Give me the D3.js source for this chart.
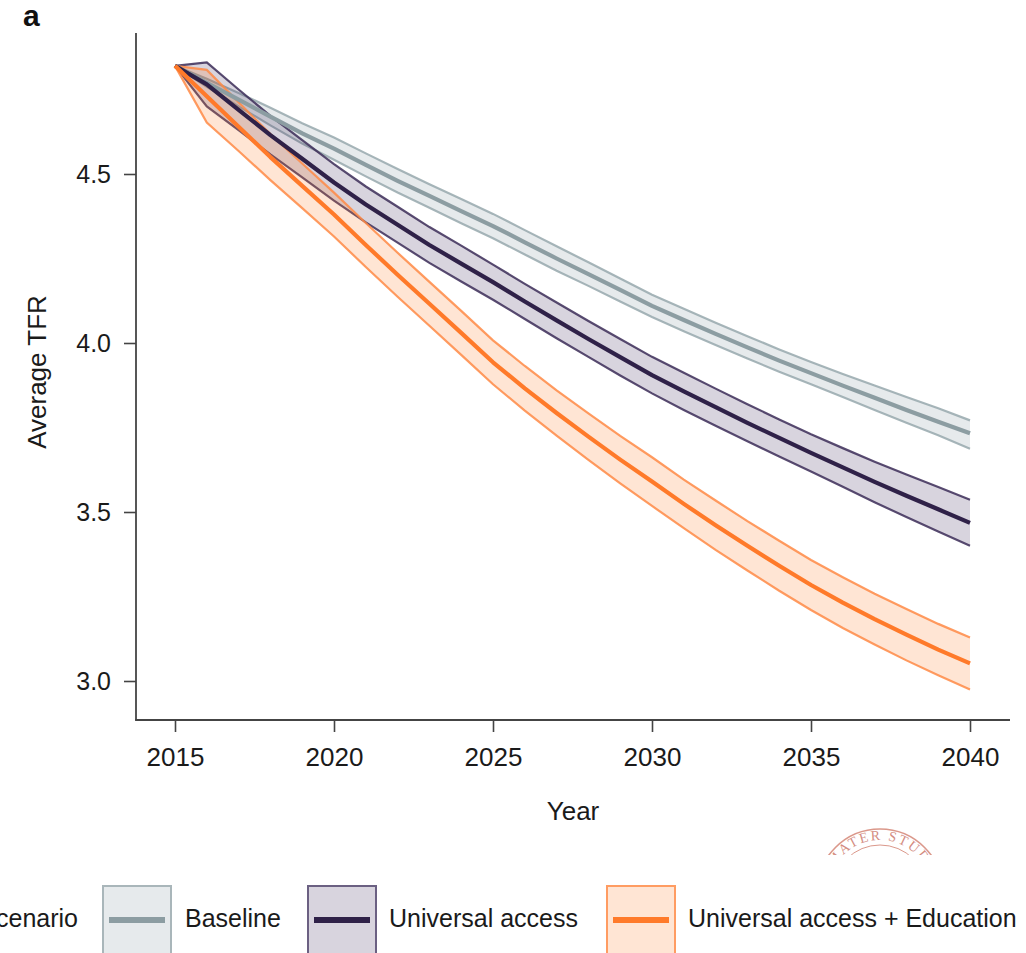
<!DOCTYPE html>
<html>
<head>
<meta charset="utf-8">
<script src="https://cdn.jsdelivr.net/npm/d3@7/dist/d3.min.js"></script>
<style>
  html, body { margin: 0; padding: 0; background: #fff; }
  svg { display: block; font-family: "Liberation Sans", Arial, Helvetica, sans-serif; }
</style>
</head>
<body>
<svg id="chart" width="1026" height="953"></svg>
<script>
// Projected average total fertility rate (TFR), 2015–2040, by scenario
const years = d3.range(2015, 2041);

const baselineMid = [4.82,4.77,4.72,4.67,4.62,4.575,4.527,4.48,4.435,4.39,4.346,4.298,4.25,4.204,4.157,4.11,4.068,4.027,3.987,3.948,3.911,3.874,3.838,3.802,3.767,3.733];
const baselineLo  = [4.82,4.758,4.70,4.644,4.59,4.542,4.493,4.445,4.40,4.354,4.31,4.262,4.214,4.169,4.123,4.077,4.035,3.994,3.954,3.915,3.878,3.84,3.802,3.764,3.727,3.687];
const baselineHi  = [4.82,4.782,4.74,4.696,4.65,4.608,4.561,4.515,4.47,4.426,4.382,4.334,4.286,4.239,4.191,4.143,4.101,4.06,4.02,3.981,3.944,3.908,3.874,3.84,3.807,3.771];

const accessMid = [4.82,4.765,4.69,4.615,4.545,4.475,4.41,4.35,4.29,4.235,4.18,4.123,4.067,4.012,3.958,3.905,3.857,3.81,3.764,3.719,3.675,3.632,3.589,3.548,3.508,3.468];
const accessHi  = [4.82,4.83,4.75,4.672,4.60,4.529,4.463,4.403,4.343,4.288,4.232,4.175,4.12,4.065,4.012,3.959,3.912,3.865,3.819,3.774,3.73,3.689,3.649,3.611,3.574,3.536];
const accessLo  = [4.82,4.70,4.63,4.558,4.49,4.421,4.357,4.297,4.237,4.182,4.128,4.071,4.014,3.959,3.904,3.851,3.802,3.755,3.709,3.664,3.62,3.575,3.529,3.485,3.442,3.40];

const eduMid = [4.82,4.73,4.64,4.55,4.465,4.38,4.29,4.202,4.116,4.03,3.943,3.866,3.793,3.723,3.655,3.59,3.524,3.461,3.40,3.341,3.284,3.232,3.183,3.137,3.093,3.052];
const eduHi  = [4.82,4.808,4.712,4.618,4.531,4.445,4.355,4.267,4.181,4.095,4.008,3.932,3.86,3.792,3.725,3.662,3.596,3.534,3.473,3.415,3.358,3.307,3.258,3.213,3.169,3.129];
const eduLo  = [4.82,4.652,4.568,4.482,4.399,4.315,4.225,4.137,4.051,3.965,3.878,3.80,3.726,3.654,3.585,3.518,3.452,3.388,3.327,3.267,3.21,3.157,3.108,3.061,3.017,2.975];

const scenarioNames = ["Baseline", "Universal access", "Universal access + Education"];
const xTicks = [2015, 2020, 2025, 2030, 2035, 2040];
const yTicks = [3.0, 3.5, 4.0, 4.5];

const series = [
  { name: scenarioNames[0], mid: baselineMid, lo: baselineLo, hi: baselineHi,
    line: "#8c9da2", edge: "#97a8ad", fill: "#4f6d77", fillOpacity: 0.14, box: "#a9b6ba" },
  { name: scenarioNames[1], mid: accessMid, lo: accessLo, hi: accessHi,
    line: "#2f2148", edge: "#3b2c57", fill: "#3b2a5a", fillOpacity: 0.2, box: "#6b6082" },
  { name: scenarioNames[2], mid: eduMid, lo: eduLo, hi: eduHi,
    line: "#ff7a2a", edge: "#ff8a45", fill: "#ff7f2a", fillOpacity: 0.2, box: "#ff9c62" }
];

const svg = d3.select("#chart");

const x = d3.scaleLinear().domain([2015, 2040]).range([175, 970]);
const y = d3.scaleLinear().domain([3.0, 4.5]).range([681, 174]);

const xLeft = 136, xRight = 1010, yTop = 33, yBottom = 720;

// Panel letter
svg.append("text")
  .attr("x", 23).attr("y", 26)
  .attr("font-size", 30).attr("font-weight", "bold")
  .attr("fill", "#111")
  .text("a");

// Ribbons (uncertainty bands)
const area = d3.area()
  .x((d, i) => x(years[i]))
  .y0(d => y(d[0]))
  .y1(d => y(d[1]));

const line = d3.line()
  .x((d, i) => x(years[i]))
  .y(d => y(d));

const bands = svg.append("g");
series.forEach(s => {
  const pairs = s.lo.map((v, i) => [v, s.hi[i]]);
  bands.append("path")
    .attr("d", area(pairs))
    .attr("fill", s.fill)
    .attr("fill-opacity", s.fillOpacity)
    .attr("stroke", "none");
  [s.lo, s.hi].forEach(edge => {
    bands.append("path")
      .attr("d", line(edge))
      .attr("fill", "none")
      .attr("stroke", s.edge)
      .attr("stroke-width", 2.2)
      .attr("stroke-opacity", 0.85);
  });
});

// Central projections
const mids = svg.append("g");
series.forEach(s => {
  mids.append("path")
    .attr("d", line(s.mid))
    .attr("fill", "none")
    .attr("stroke", s.line)
    .attr("stroke-width", 4.2)
    .attr("stroke-linejoin", "round");
});

// Axes
const axisColor = "#444";
const yAxis = svg.append("g")
  .attr("transform", `translate(${xLeft},0)`)
  .call(d3.axisLeft(y).tickValues(yTicks).tickFormat(d3.format(".1f")).tickSize(12).tickPadding(13));
yAxis.select(".domain").remove();
yAxis.selectAll(".tick line").attr("stroke", axisColor).attr("stroke-width", 1.6);
yAxis.selectAll(".tick text").attr("font-size", 25).attr("fill", "#1a1a1a")
  .attr("font-family", "Liberation Sans, Arial, sans-serif");

const xAxis = svg.append("g")
  .attr("transform", `translate(0,${yBottom})`)
  .call(d3.axisBottom(x).tickValues(xTicks).tickFormat(d3.format("d")).tickSize(12).tickPadding(16));
xAxis.select(".domain").remove();
xAxis.selectAll(".tick line").attr("stroke", axisColor).attr("stroke-width", 1.6);
xAxis.selectAll(".tick text").attr("font-size", 26).attr("fill", "#1a1a1a")
  .attr("font-family", "Liberation Sans, Arial, sans-serif");

svg.append("line")
  .attr("x1", xLeft).attr("x2", xLeft).attr("y1", yTop).attr("y2", yBottom + 0.8)
  .attr("stroke", axisColor).attr("stroke-width", 1.8);
svg.append("line")
  .attr("x1", xLeft - 0.8).attr("x2", xRight).attr("y1", yBottom).attr("y2", yBottom)
  .attr("stroke", axisColor).attr("stroke-width", 1.8);

// Axis titles
svg.append("text")
  .attr("x", 573).attr("y", 820)
  .attr("text-anchor", "middle")
  .attr("font-size", 26).attr("fill", "#1a1a1a")
  .text("Year");

svg.append("text")
  .attr("transform", "translate(46,372) rotate(-90)")
  .attr("text-anchor", "middle")
  .attr("font-size", 26).attr("fill", "#1a1a1a")
  .text("Average TFR");

// Seal mark beneath the x-axis title
const seal = svg.append("g");
seal.append("clipPath").attr("id", "sealClip")
  .append("rect").attr("x", 800).attr("y", 800).attr("width", 200).attr("height", 55);
const sealG = seal.append("g").attr("clip-path", "url(#sealClip)").attr("opacity", 0.6);
const cx = 880, cy = 892;
sealG.append("circle").attr("cx", cx).attr("cy", cy).attr("r", 63)
  .attr("fill", "none").attr("stroke", "#c4553f").attr("stroke-width", 1.6);
sealG.append("circle").attr("cx", cx).attr("cy", cy).attr("r", 47)
  .attr("fill", "none").attr("stroke", "#c4553f").attr("stroke-width", 1);
sealG.append("path").attr("id", "sealArc")
  .attr("d", `M ${cx - 52},${cy} A 52,52 0 0,1 ${cx + 52},${cy}`)
  .attr("fill", "none");
sealG.append("text")
  .attr("font-family", "Liberation Serif, serif").attr("font-size", 14).attr("fill", "#b8412c")
  .attr("letter-spacing", 2)
  .append("textPath").attr("href", "#sealArc").attr("startOffset", "50%").attr("text-anchor", "middle")
  .text("ALMA MATER STUDIORUM");

// Legend
const legend = svg.append("g");
legend.append("text")
  .attr("x", 78).attr("y", 927)
  .attr("text-anchor", "end")
  .attr("font-size", 25).attr("fill", "#1a1a1a")
  .text("Scenario");

const legendBoxX = [103, 308, 607];
const legendTextX = [185, 389, 688];
series.forEach((s, i) => {
  const bx = legendBoxX[i];
  legend.append("rect")
    .attr("x", bx).attr("y", 886).attr("width", 68).attr("height", 80)
    .attr("fill", s.fill).attr("fill-opacity", s.fillOpacity)
    .attr("stroke", s.box).attr("stroke-width", 2);
  legend.append("line")
    .attr("x1", bx + 6).attr("x2", bx + 62)
    .attr("y1", 920).attr("y2", 920)
    .attr("stroke", s.line).attr("stroke-width", 6);
  legend.append("text")
    .attr("x", legendTextX[i]).attr("y", 927)
    .attr("font-size", 25).attr("fill", "#1a1a1a")
    .text(s.name);
});
</script>
</body>
</html>
